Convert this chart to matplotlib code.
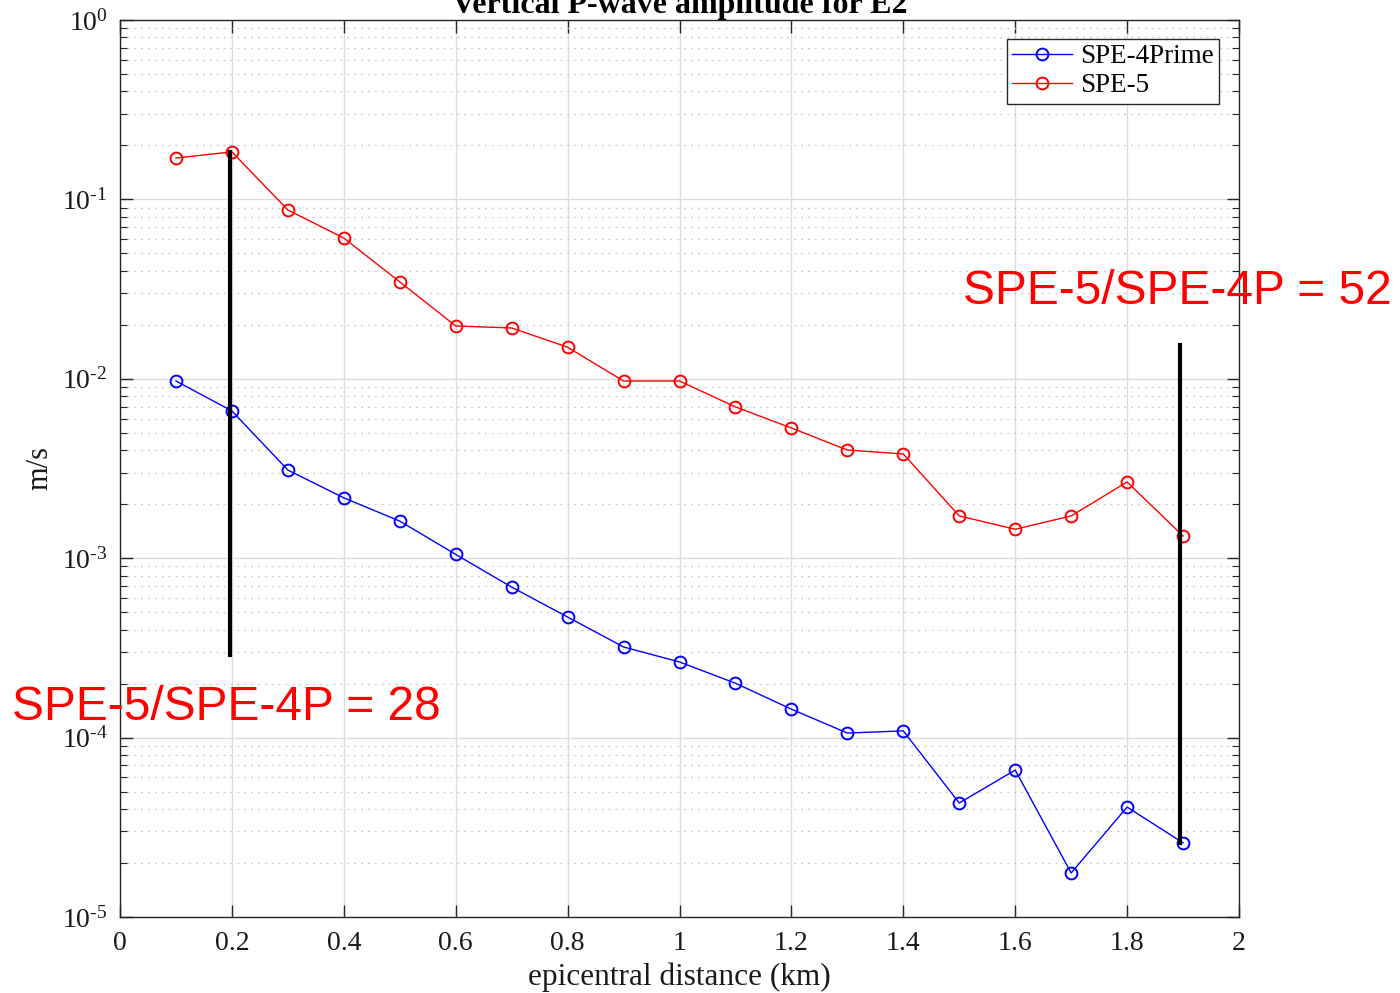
import matplotlib
matplotlib.use("Agg")
import matplotlib.pyplot as plt
from matplotlib.ticker import LogLocator, NullFormatter, FixedLocator

distance = [0.1, 0.2, 0.3, 0.4, 0.5, 0.6, 0.7, 0.8, 0.9, 1.0,
            1.1, 1.2, 1.3, 1.4, 1.5, 1.6, 1.7, 1.8, 1.9]
spe4prime = [0.00972, 0.00662, 0.00310, 0.00217, 0.00161, 0.00105, 0.000690,
             0.000470, 0.000320, 0.000264, 0.000201, 0.000144, 0.000106,
             0.000109, 4.32e-5, 6.59e-5, 1.76e-5, 4.10e-5, 2.59e-5]
spe5 = [0.170, 0.184, 0.0873, 0.0609, 0.0347, 0.0197, 0.0192, 0.0150,
        0.00972, 0.00972, 0.00697, 0.00532, 0.00401, 0.00381, 0.00172,
        0.00145, 0.00172, 0.00266, 0.00133]

ratio_lines_x = [0.197, 1.895]
ratio_lines_top = [0.184, 0.0154]
ratio_lines_bottom = [2.9e-4, 2.59e-5]
ratio_labels = ["SPE-5/SPE-4P = 28", "SPE-5/SPE-4P = 52"]

x_ticks = [0, 0.2, 0.4, 0.6, 0.8, 1.0, 1.2, 1.4, 1.6, 1.8, 2.0]
x_tick_labels = ["0", "0.2", "0.4", "0.6", "0.8", "1", "1.2", "1.4", "1.6", "1.8", "2"]
y_ticks = [1e-5, 1e-4, 1e-3, 1e-2, 1e-1, 1]
y_exponents = ["-5", "-4", "-3", "-2", "-1", "0"]

serif = ["Liberation Serif", "DejaVu Serif"]
plt.rcParams["font.family"] = serif
plt.rcParams["mathtext.fontset"] = "custom"
plt.rcParams["mathtext.rm"] = "Liberation Serif"
plt.rcParams["mathtext.it"] = "Liberation Serif:italic"

fig = plt.figure(figsize=(14, 9.93), dpi=100)
ax = fig.add_axes([120/1400, 1-917/993, (1239-120)/1400, (917-20)/993])

ax.plot(distance, spe4prime, color=(0, 0, 1), lw=1.0, marker="o", ms=8.5,
        mfc="none", mew=1.4, label="SPE-4Prime", zorder=3)
ax.plot(distance, spe5, color=(1, 0, 0), lw=1.0, marker="o", ms=8.5,
        mfc="none", mew=1.4, label="SPE-5", zorder=3)

for x, y0, y1 in zip(ratio_lines_x, ratio_lines_top, ratio_lines_bottom):
    ax.plot([x, x], [y0, y1], color="black", lw=3, zorder=4)

ax.set_yscale("log")
ax.set_xlim(0, 2)
ax.set_ylim(1e-5, 1)
ax.set_xticks(x_ticks)
ax.set_xticklabels(x_tick_labels)
ax.yaxis.set_major_locator(FixedLocator(y_ticks))
ax.yaxis.set_minor_locator(LogLocator(base=10, subs=range(2, 10), numticks=20))
ax.yaxis.set_minor_formatter(NullFormatter())
ax.set_yticklabels([r"$10^{\text{" + e + "}}$" for e in y_exponents])

ax.tick_params(which="both", direction="in", top=True, right=True,
               colors="#262626", labelcolor="#1a1a1a")
ax.tick_params(axis="x", labelsize=20, pad=10)
ax.tick_params(axis="y", labelsize=20, pad=9)
ax.tick_params(which="major", length=9, width=1.0)
ax.tick_params(which="minor", length=5, width=0.8)

ax.grid(True, which="major", color="#dcdcdc", lw=1.0)
ax.grid(True, which="minor", axis="y", color="#c8c8c8", lw=0.9, ls=(0, (1.5, 4)))
ax.set_axisbelow(True)
for s in ax.spines.values():
    s.set_color("#262626")
    s.set_linewidth(1.0)

ax.set_xlabel("epicentral distance (km)", fontsize=22.5, labelpad=5, color="#1a1a1a")
ax.set_ylabel("m/s", fontsize=22, labelpad=5, color="#1a1a1a")
ax.set_title("Vertical P-wave amplitude for E2", fontsize=23, fontweight="bold", pad=1)

leg = ax.legend(loc="upper right", bbox_to_anchor=(1219/1400, 1-39/993),
                bbox_transform=fig.transFigure, fontsize=19.5, frameon=True,
                fancybox=False, edgecolor="#262626", framealpha=1,
                handlelength=2.2, borderpad=0.2, labelspacing=0.15,
                handletextpad=0.3, borderaxespad=0)
leg.get_frame().set_linewidth(1.0)

fig.text(12/1400, 1-707/993, ratio_labels[0], color="red", fontsize=34.5,
         family=["Liberation Sans", "DejaVu Sans"], va="center", ha="left")
fig.text(963/1400, 1-291/993, ratio_labels[1], color="red", fontsize=34.5,
         family=["Liberation Sans", "DejaVu Sans"], va="center", ha="left")

fig.savefig("out.png", dpi=100)
